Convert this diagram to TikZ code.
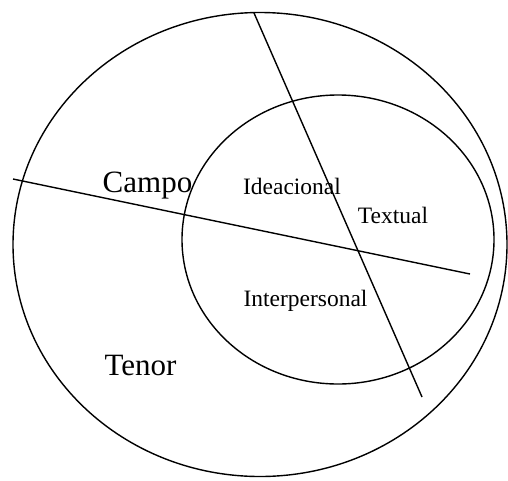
\documentclass[tikz,border=0pt]{standalone}
\usepackage{fontspec}
\setmainfont{Liberation Serif}
\usepackage{tikz}
\usetikzlibrary{positioning}

\begin{document}
\begin{tikzpicture}[
  x=1pt, y=-1pt,
  ring/.style={draw=black, line width=1.4pt},
  cut/.style={draw=black, line width=1.4pt},
  big/.style={font=\fontsize{31}{34}\selectfont, anchor=base, inner sep=0pt},
  small/.style={font=\fontsize{23.5}{26}\selectfont, anchor=base, inner sep=0pt}
]
  \useasboundingbox (0,0) rectangle (508,480);

  % contexto y metafunciones
  \draw[ring] (260,244.5) ellipse [x radius=247, y radius=232];
  \draw[ring] (338,239.5) ellipse [x radius=156, y radius=144.5];

  \coordinate (h0) at (13,179);
  \coordinate (h1) at (470,274);
  \coordinate (v0) at (254,13);
  \coordinate (v1) at (422,397);
  \draw[cut] (h0) -- (h1);
  \draw[cut] (v0) -- (v1);

  \node[big] (campo) at (147.5,192) {Campo};
  \node[big] (tenor) at (140.5,375) {Tenor};
  \node[small] (idea) at (292,194) {Ideacional};
  \node[small] (text) at (393,223) {Textual};
  \node[small] (inter) at (305.5,306) {Interpersonal};
\end{tikzpicture}
\end{document}
